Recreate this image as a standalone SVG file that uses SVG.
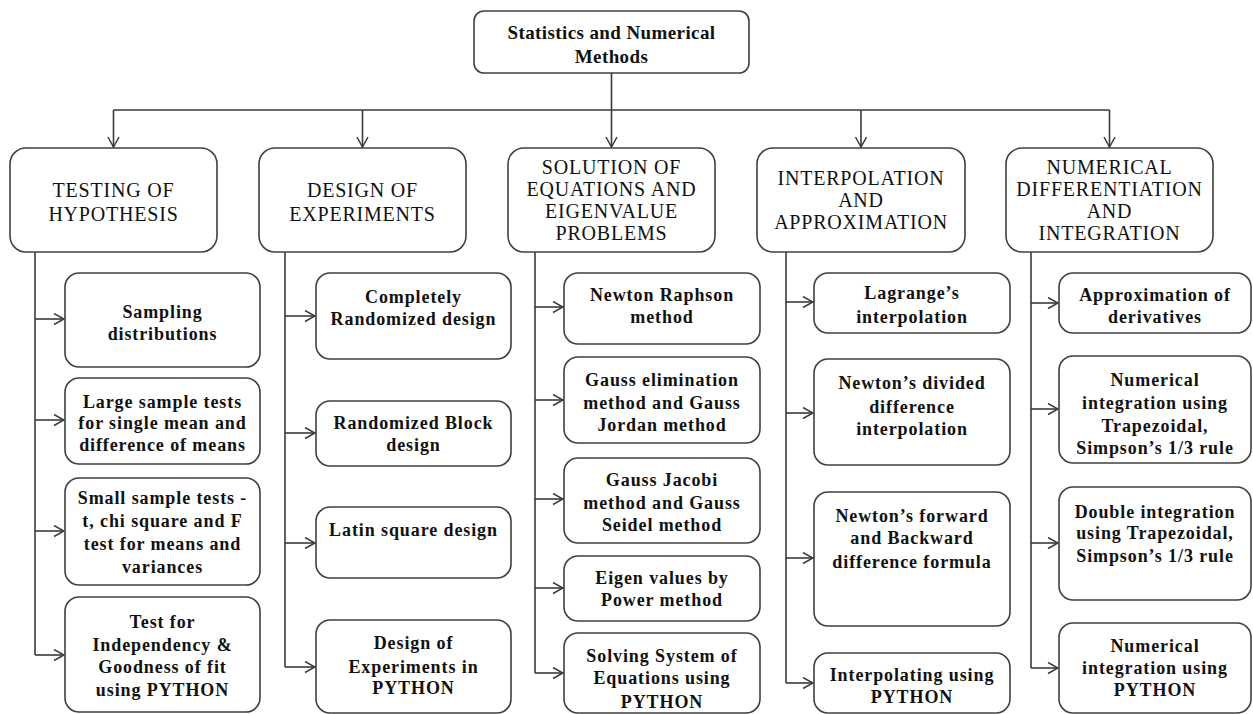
<svg xmlns="http://www.w3.org/2000/svg" width="1253" height="714" viewBox="0 0 1253 714">
  <style>
    .box { fill: #ffffff; stroke: #404040; stroke-width: 1.6; }
    .conn { fill: none; stroke: #3a3a3a; stroke-width: 1.6; }
    .root { font-family: "Liberation Serif", "Times New Roman", serif; font-weight: bold; font-size: 19px; letter-spacing: 0.4px; fill: #111; text-anchor: middle; }
    .t1 { font-family: "Liberation Serif", "Times New Roman", serif; font-size: 20px; letter-spacing: 0.8px; fill: #111; text-anchor: middle; }
    .t2 { font-family: "Liberation Serif", "Times New Roman", serif; font-weight: bold; font-size: 18px; letter-spacing: 0.9px; fill: #111; text-anchor: middle; }
  </style>
  <defs>
    <marker id="arrow" markerUnits="userSpaceOnUse" markerWidth="12" markerHeight="14" refX="11" refY="6" orient="auto">
      <path d="M1,0.5 L11,6 L1,11.5" fill="none" stroke="#3a3a3a" stroke-width="1.5"/>
    </marker>
  </defs>
  <rect width="1253" height="714" fill="#ffffff"/>

  <!-- connectors -->
  <g id="connectors" class="conn">
    <line x1="611.5" y1="73" x2="611.5" y2="147" marker-end="url(#arrow)"/>
    <line x1="113.5" y1="110" x2="1109.5" y2="110"/>
    <line x1="113.5" y1="110" x2="113.5" y2="147" marker-end="url(#arrow)"/>
    <line x1="362.5" y1="110" x2="362.5" y2="147" marker-end="url(#arrow)"/>
    <line x1="861" y1="110" x2="861" y2="147" marker-end="url(#arrow)"/>
    <line x1="1109.5" y1="110" x2="1109.5" y2="147" marker-end="url(#arrow)"/>

    <!-- testing of hypothesis branch -->
    <line x1="35" y1="252" x2="35" y2="655"/>
    <line x1="35" y1="319" x2="64" y2="319" marker-end="url(#arrow)"/>
    <line x1="35" y1="420" x2="64" y2="420" marker-end="url(#arrow)"/>
    <line x1="35" y1="531" x2="64" y2="531" marker-end="url(#arrow)"/>
    <line x1="35" y1="655" x2="64" y2="655" marker-end="url(#arrow)"/>

    <!-- design of experiments branch -->
    <line x1="285" y1="252" x2="285" y2="667"/>
    <line x1="285" y1="316" x2="315" y2="316" marker-end="url(#arrow)"/>
    <line x1="285" y1="433" x2="315" y2="433" marker-end="url(#arrow)"/>
    <line x1="285" y1="543" x2="315" y2="543" marker-end="url(#arrow)"/>
    <line x1="285" y1="667" x2="315" y2="667" marker-end="url(#arrow)"/>

    <!-- equations branch -->
    <line x1="535" y1="252" x2="535" y2="673"/>
    <line x1="535" y1="307" x2="563" y2="307" marker-end="url(#arrow)"/>
    <line x1="535" y1="400" x2="563" y2="400" marker-end="url(#arrow)"/>
    <line x1="535" y1="499" x2="563" y2="499" marker-end="url(#arrow)"/>
    <line x1="535" y1="588" x2="563" y2="588" marker-end="url(#arrow)"/>
    <line x1="535" y1="673" x2="563" y2="673" marker-end="url(#arrow)"/>

    <!-- interpolation branch -->
    <line x1="786" y1="252" x2="786" y2="683"/>
    <line x1="786" y1="302" x2="813" y2="302" marker-end="url(#arrow)"/>
    <line x1="786" y1="413" x2="813" y2="413" marker-end="url(#arrow)"/>
    <line x1="786" y1="558" x2="813" y2="558" marker-end="url(#arrow)"/>
    <line x1="786" y1="683" x2="813" y2="683" marker-end="url(#arrow)"/>

    <!-- differentiation and integration branch -->
    <line x1="1031" y1="252" x2="1031" y2="668"/>
    <line x1="1031" y1="303" x2="1058" y2="303" marker-end="url(#arrow)"/>
    <line x1="1031" y1="409" x2="1058" y2="409" marker-end="url(#arrow)"/>
    <line x1="1031" y1="543" x2="1058" y2="543" marker-end="url(#arrow)"/>
    <line x1="1031" y1="668" x2="1058" y2="668" marker-end="url(#arrow)"/>
  </g>

  <!-- root -->
  <g id="root">
    <rect class="box" x="474" y="11" width="275" height="62" rx="10"/>
    <text class="root" x="611.5" y="39">Statistics and Numerical</text>
    <text class="root" x="611.5" y="63">Methods</text>
  </g>

  <!-- top-level topics -->
  <g id="testing-of-hypothesis">
    <rect class="box" x="10" y="148" width="207" height="104" rx="16"/>
    <text class="t1" x="113.5" y="197">TESTING OF</text>
    <text class="t1" x="113.5" y="221">HYPOTHESIS</text>
  </g>
  <g id="design-of-experiments">
    <rect class="box" x="259" y="148" width="207" height="104" rx="16"/>
    <text class="t1" x="362.5" y="197">DESIGN OF</text>
    <text class="t1" x="362.5" y="221">EXPERIMENTS</text>
  </g>
  <g id="solution-of-equations">
    <rect class="box" x="508" y="148" width="207" height="104" rx="16"/>
    <text class="t1" x="611.5" y="174">SOLUTION OF</text>
    <text class="t1" x="611.5" y="196">EQUATIONS AND</text>
    <text class="t1" x="611.5" y="218">EIGENVALUE</text>
    <text class="t1" x="611.5" y="240">PROBLEMS</text>
  </g>
  <g id="interpolation">
    <rect class="box" x="757" y="148" width="208" height="104" rx="16"/>
    <text class="t1" x="861" y="185">INTERPOLATION</text>
    <text class="t1" x="861" y="207">AND</text>
    <text class="t1" x="861" y="229">APPROXIMATION</text>
  </g>
  <g id="numerical-differentiation">
    <rect class="box" x="1006" y="148" width="207" height="104" rx="16"/>
    <text class="t1" x="1109.5" y="174">NUMERICAL</text>
    <text class="t1" x="1109.5" y="196">DIFFERENTIATION</text>
    <text class="t1" x="1109.5" y="218">AND</text>
    <text class="t1" x="1109.5" y="240">INTEGRATION</text>
  </g>

  <!-- testing of hypothesis topics -->
  <g id="sampling-distributions">
    <rect class="box" x="65" y="273" width="195" height="94" rx="14"/>
    <text class="t2" x="162.5" y="318">Sampling</text>
    <text class="t2" x="162.5" y="340">distributions</text>
  </g>
  <g id="large-sample-tests">
    <rect class="box" x="65" y="378" width="195" height="86" rx="14"/>
    <text class="t2" x="162.5" y="408">Large sample tests</text>
    <text class="t2" x="162.5" y="429">for single mean and</text>
    <text class="t2" x="162.5" y="451">difference of means</text>
  </g>
  <g id="small-sample-tests">
    <rect class="box" x="65" y="478" width="195" height="107" rx="14"/>
    <text class="t2" x="162.5" y="504">Small  sample tests -</text>
    <text class="t2" x="162.5" y="527">t, chi square and F</text>
    <text class="t2" x="162.5" y="550">test for means and</text>
    <text class="t2" x="162.5" y="573">variances</text>
  </g>
  <g id="independency-goodness-of-fit">
    <rect class="box" x="65" y="597" width="195" height="115" rx="14"/>
    <text class="t2" x="162.5" y="628">Test for</text>
    <text class="t2" x="162.5" y="651">Independency &amp;</text>
    <text class="t2" x="162.5" y="673">Goodness of fit</text>
    <text class="t2" x="162.5" y="696">using PYTHON</text>
  </g>

  <!-- design of experiments topics -->
  <g id="completely-randomized">
    <rect class="box" x="316" y="273" width="195" height="86" rx="14"/>
    <text class="t2" x="413.5" y="303">Completely</text>
    <text class="t2" x="413.5" y="325">Randomized design</text>
  </g>
  <g id="randomized-block">
    <rect class="box" x="316" y="401" width="195" height="65" rx="14"/>
    <text class="t2" x="413.5" y="429">Randomized Block</text>
    <text class="t2" x="413.5" y="451">design</text>
  </g>
  <g id="latin-square">
    <rect class="box" x="316" y="507" width="195" height="71" rx="14"/>
    <text class="t2" x="413.5" y="536">Latin square design</text>
  </g>
  <g id="experiments-python">
    <rect class="box" x="316" y="620" width="195" height="93" rx="14"/>
    <text class="t2" x="413.5" y="649">Design of</text>
    <text class="t2" x="413.5" y="673">Experiments in</text>
    <text class="t2" x="413.5" y="694">PYTHON</text>
  </g>

  <!-- equations and eigenvalue topics -->
  <g id="newton-raphson">
    <rect class="box" x="564" y="273" width="196" height="71" rx="14"/>
    <text class="t2" x="662" y="301">Newton Raphson</text>
    <text class="t2" x="662" y="323">method</text>
  </g>
  <g id="gauss-elimination">
    <rect class="box" x="564" y="357" width="196" height="86" rx="14"/>
    <text class="t2" x="662" y="386">Gauss elimination</text>
    <text class="t2" x="662" y="409">method and Gauss</text>
    <text class="t2" x="662" y="431">Jordan method</text>
  </g>
  <g id="gauss-jacobi">
    <rect class="box" x="564" y="458" width="196" height="85" rx="14"/>
    <text class="t2" x="662" y="486">Gauss Jacobi</text>
    <text class="t2" x="662" y="509">method and Gauss</text>
    <text class="t2" x="662" y="531">Seidel method</text>
  </g>
  <g id="power-method">
    <rect class="box" x="564" y="556" width="196" height="65" rx="14"/>
    <text class="t2" x="662" y="584">Eigen values by</text>
    <text class="t2" x="662" y="606">Power method</text>
  </g>
  <g id="equations-python">
    <rect class="box" x="564" y="633" width="196" height="80" rx="14"/>
    <text class="t2" x="662" y="662">Solving System of</text>
    <text class="t2" x="662" y="684">Equations using</text>
    <text class="t2" x="662" y="708">PYTHON</text>
  </g>

  <!-- interpolation topics -->
  <g id="lagrange">
    <rect class="box" x="814" y="273" width="196" height="60" rx="14"/>
    <text class="t2" x="912" y="299">Lagrange’s</text>
    <text class="t2" x="912" y="323">interpolation</text>
  </g>
  <g id="divided-difference">
    <rect class="box" x="814" y="359" width="196" height="106" rx="14"/>
    <text class="t2" x="912" y="389">Newton’s divided</text>
    <text class="t2" x="912" y="413">difference</text>
    <text class="t2" x="912" y="435">interpolation</text>
  </g>
  <g id="forward-backward">
    <rect class="box" x="814" y="492" width="196" height="134" rx="14"/>
    <text class="t2" x="912" y="522">Newton’s forward</text>
    <text class="t2" x="912" y="544">and Backward</text>
    <text class="t2" x="912" y="568">difference formula</text>
  </g>
  <g id="interpolating-python">
    <rect class="box" x="814" y="653" width="196" height="60" rx="14"/>
    <text class="t2" x="912" y="681">Interpolating using</text>
    <text class="t2" x="912" y="703">PYTHON</text>
  </g>

  <!-- differentiation and integration topics -->
  <g id="derivatives">
    <rect class="box" x="1059" y="273" width="192" height="60" rx="14"/>
    <text class="t2" x="1155" y="301">Approximation of</text>
    <text class="t2" x="1155" y="323">derivatives</text>
  </g>
  <g id="trapezoidal-simpson">
    <rect class="box" x="1059" y="356" width="192" height="107" rx="14"/>
    <text class="t2" x="1155" y="386">Numerical</text>
    <text class="t2" x="1155" y="409">integration using</text>
    <text class="t2" x="1155" y="432">Trapezoidal,</text>
    <text class="t2" x="1155" y="454">Simpson’s 1/3 rule</text>
  </g>
  <g id="double-integration">
    <rect class="box" x="1059" y="487" width="192" height="113" rx="14"/>
    <text class="t2" x="1155" y="518">Double integration</text>
    <text class="t2" x="1155" y="539">using Trapezoidal,</text>
    <text class="t2" x="1155" y="562">Simpson’s 1/3 rule</text>
  </g>
  <g id="integration-python">
    <rect class="box" x="1059" y="623" width="192" height="90" rx="14"/>
    <text class="t2" x="1155" y="652">Numerical</text>
    <text class="t2" x="1155" y="674">integration using</text>
    <text class="t2" x="1155" y="696">PYTHON</text>
  </g>
</svg>
